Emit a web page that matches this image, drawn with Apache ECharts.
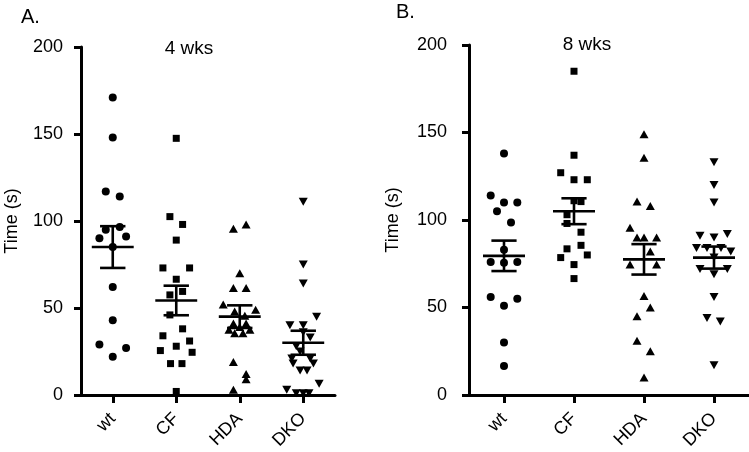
<!DOCTYPE html>
<html>
<head>
<meta charset="utf-8">
<script src="https://cdn.jsdelivr.net/npm/echarts@6/dist/echarts.min.js"></script>
<style>
html,body{margin:0;padding:0;background:#fff;}
#chart{width:749px;height:452px;}
</style>
</head>
<body>
<div id="chart"></div>
<script>
const categories = ['wt', 'CF', 'HDA', 'DKO'];
const yTicks = [0, 50, 100, 150, 200];

// Panel A (4 wks): values and horizontal jitter (in category units)
const a_wt = [171, 148, 117, 114, 96.5, 95, 91, 90, 85, 62, 43, 29, 27, 22];
const a_wt_j = [0, 0, -0.11, 0.11, 0.11, -0.11, 0.21, -0.21, 0, 0, 0, -0.21, 0.21, 0];
const a_cf = [147.5, 102.5, 98, 89, 73, 73, 66.5, 59.5, 57.5, 46, 38, 34, 31, 28, 25.5, 24.5, 18, 18, 2];
const a_cf_j = [0, -0.1, 0.1, 0, -0.21, 0.21, 0, 0.1, -0.1, -0.1, 0.1, -0.21, 0.21, 0, -0.25, 0.25, -0.09, 0.09, 0];
const a_hda = [98, 95.5, 70, 61.5, 61.5, 52, 49, 48, 45.5, 41, 41, 39, 37.5, 37.5, 35.5, 35.5, 19, 12, 9, 3];
const a_hda_j = [0.1, -0.1, 0, -0.1, 0.1, -0.26, 0.25, -0.08, 0.08, -0.1, 0.1, 0, -0.17, 0.16, -0.08, 0.05, -0.1, 0.1, 0.1, -0.1];
const a_dko = [111, 75, 64, 45, 40, 40, 36, 33, 28, 25, 21, 21, 18, 18, 14, 14, 6.5, 3, 1, 1, 1];
const a_dko_j = [0, 0, 0, 0.21, -0.21, 0, 0, 0.11, -0.11, -0.05, -0.18, 0.11, 0.16, -0.16, -0.05, 0.06, 0.25, -0.26, -0.11, 0, 0.09];
const a_mean = [85, 54.3, 45, 30];
const a_sem = [12, 8.5, 6.5, 6.9];
const a_star = ['', '*', '*', '*'];
const a_star_y = [0, 61, 55, 35];

// Panel B (8 wks)
const b_wt = [138, 114, 110, 110, 105, 98.5, 83, 76, 75.5, 76, 56, 51, 55, 30, 16.5];
const b_wt_j = [0, -0.19, 0, 0.19, -0.1, 0.1, 0, -0.19, 0, 0.19, -0.19, 0, 0.19, 0, 0];
const b_cf = [185, 137, 127, 123, 123, 111, 110.5, 103, 98, 93, 85.5, 83.5, 80, 78.5, 74.5, 66.5];
const b_cf_j = [0, 0, -0.19, 0, 0.19, 0, 0.1, -0.1, -0.1, 0.1, 0.1, -0.1, 0.19, -0.19, 0, 0];
const b_hda = [149, 135.5, 110.5, 108, 95.5, 90, 90, 90, 82, 74.5, 74.5, 56.5, 50, 45, 31, 25, 10];
const b_hda_j = [0, 0, -0.1, 0.09, -0.2, -0.1, 0, 0.18, 0.09, -0.2, 0.18, 0, 0.09, -0.1, -0.1, 0.09, 0];
const b_dko = [133, 120, 110, 91, 90, 92, 84, 84, 84, 82, 78.5, 72, 72, 69, 56, 44, 42, 17];
const b_dko_j = [0, 0, 0, -0.2, 0, 0.19, -0.25, -0.1, 0.1, 0.24, 0, -0.2, 0.19, 0, 0, -0.1, 0.09, 0];
const b_mean = [79.5, 105, 77.5, 78.5];
const b_sem = [8.7, 7.4, 8.7, 6.3];
const b_star = ['**', '*', '', '**'];
const b_star_y = [89.5, 108, 0, 97];

const FONT = 'Liberation Sans, Arial, sans-serif';
const symbols = [
  {symbol: 'circle', size: 8, rotate: 0},
  {symbol: 'rect', size: 7, rotate: 0},
  {symbol: 'triangle', size: [9, 8], rotate: 0},
  {symbol: 'triangle', size: [9, 8], rotate: 180}
];

function pts(vals, jit, idx) {
  return vals.map((v, k) => [idx + jit[k], v]);
}

function makePanel(p, groups, jits, means, sems, stars, starY, meanHalf, capHalf) {
  const series = [];
  groups.forEach((g, i) => {
    series.push({
      type: 'scatter', xAxisIndex: p * 2 + 1, yAxisIndex: p,
      data: pts(g, jits[i], i),
      symbol: symbols[i].symbol, symbolSize: symbols[i].size, symbolRotate: symbols[i].rotate,
      itemStyle: {color: '#000', opacity: 1},
      z: 3, silent: true
    });
  });
  series.push({
    type: 'custom', xAxisIndex: p * 2 + 1, yAxisIndex: p,
    data: means.map((m, i) => [i, m, sems[i]]),
    encode: {x: 0, y: 1},
    z: 4, silent: true,
    renderItem: function (params, api) {
      const i = api.value(0), m = api.value(1), s = api.value(2);
      const st = {stroke: '#000', lineWidth: 2.6};
      const L = (x1, y1, x2, y2) => {
        const a = api.coord([x1, y1]), b = api.coord([x2, y2]);
        return {type: 'line', shape: {x1: a[0], y1: a[1], x2: b[0], y2: b[1]}, style: st};
      };
      return {type: 'group', children: [
        L(i - meanHalf, m, i + meanHalf, m),
        L(i, m - s, i, m + s),
        L(i - capHalf, m + s, i + capHalf, m + s),
        L(i - capHalf, m - s, i + capHalf, m - s)
      ]};
    }
  });
  series.push({
    type: 'scatter', xAxisIndex: p * 2 + 1, yAxisIndex: p,
    data: stars.map((t, i) => ({value: [i + 0.41, starY[i]], name: t})).filter(d => d.name),
    symbolSize: 1, itemStyle: {opacity: 0}, silent: true,
    label: {show: true, position: 'inside', formatter: '{b}', color: '#555', fontSize: 15, fontFamily: FONT},
    z: 5
  });
  return series;
}

const axisLineStyle = {color: '#000', width: 3};
function xAxes(gi) {
  return [
    {
      type: 'category', gridIndex: gi, data: categories, boundaryGap: true,
      axisLine: {show: true, onZero: false, lineStyle: axisLineStyle},
      axisTick: {show: true, alignWithLabel: true, length: 8, lineStyle: axisLineStyle},
      axisLabel: {rotate: 45, fontSize: 18, color: '#000', fontFamily: FONT, margin: 21},
      splitLine: {show: false}
    },
    {
      type: 'value', gridIndex: gi, min: -0.5, max: 3.5, show: false
    }
  ];
}
function yAxis(gi, margin, gap) {
  return {
    type: 'value', gridIndex: gi, min: 0, max: 200, interval: 50,
    name: 'Time (s)', nameLocation: 'middle', nameGap: gap,
    nameTextStyle: {fontSize: 18, color: '#000', fontFamily: FONT},
    axisLine: {show: true, onZero: false, lineStyle: axisLineStyle},
    axisTick: {show: true, length: 7, lineStyle: axisLineStyle},
    axisLabel: {fontSize: 18, color: '#000', fontFamily: FONT, margin: margin,
      formatter: v => yTicks.indexOf(v) >= 0 ? String(v) : ''},
    splitLine: {show: false}
  };
}

const option = {
  animation: false,
  backgroundColor: '#fff',
  grid: [
    {left: 81, right: 414, top: 47, bottom: 57},
    {left: 469, right: 0, top: 45, bottom: 56}
  ],
  xAxis: [...xAxes(0), ...xAxes(1)],
  yAxis: [yAxis(0, 18, 60), yAxis(1, 22, 67)],
  graphic: [
    {type: 'text', x: 21, y: 17, style: {text: 'A.', fontSize: 20, fontFamily: FONT, fill: '#000', textVerticalAlign: 'middle'}},
    {type: 'text', x: 189, y: 49, style: {text: '4 wks', fontSize: 19, fontFamily: FONT, fill: '#000', textAlign: 'center', textVerticalAlign: 'middle'}},
    {type: 'text', x: 396, y: 12, style: {text: 'B.', fontSize: 20, fontFamily: FONT, fill: '#000', textVerticalAlign: 'middle'}},
    {type: 'text', x: 587, y: 45, style: {text: '8 wks', fontSize: 19, fontFamily: FONT, fill: '#000', textAlign: 'center', textVerticalAlign: 'middle'}}
  ],
  series: [
    ...makePanel(0, [a_wt, a_cf, a_hda, a_dko], [a_wt_j, a_cf_j, a_hda_j, a_dko_j], a_mean, a_sem, a_star, a_star_y, 0.33, 0.2),
    ...makePanel(1, [b_wt, b_cf, b_hda, b_dko], [b_wt_j, b_cf_j, b_hda_j, b_dko_j], b_mean, b_sem, b_star, b_star_y, 0.3, 0.18)
  ]
};

const chart = echarts.init(document.getElementById('chart'), null, {renderer: 'canvas'});
chart.setOption(option);
</script>
</body>
</html>
